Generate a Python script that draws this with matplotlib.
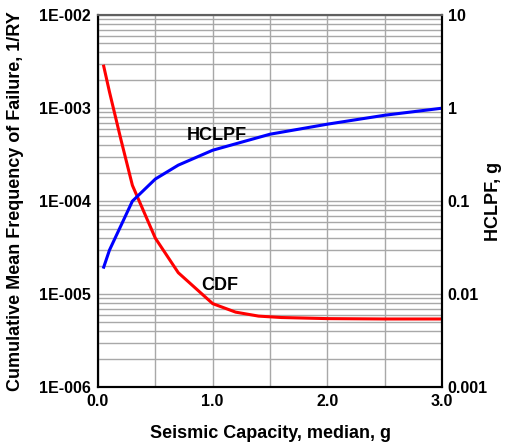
#!/usr/bin/env python3
"""Seismic capacity vs. CDF and HCLPF, two log axes."""

import matplotlib
matplotlib.use("Agg")
import matplotlib.pyplot as plt
from matplotlib.ticker import FixedLocator, LogLocator, NullFormatter

plt.rcParams["font.family"] = ["Liberation Sans", "DejaVu Sans"]
plt.rcParams["font.weight"] = "bold"

# --- data ---
capacity = [0.05, 0.1, 0.2, 0.3, 0.5, 0.7, 1.0, 1.2, 1.4, 1.6, 2.0, 2.5, 3.0]
cdf = [2.83e-3, 1.5e-3, 4.6e-4, 1.48e-4, 4.0e-5, 1.7e-5, 7.9e-6, 6.4e-6,
       5.8e-6, 5.6e-6, 5.45e-6, 5.4e-6, 5.4e-6]
hclpf_x = [0.05, 0.1, 0.3, 0.5, 0.7, 1.0, 1.5, 2.0, 2.5, 3.0]
hclpf = [0.0195, 0.0297, 0.1, 0.173, 0.244, 0.353, 0.525, 0.673, 0.84, 1.0]

x_ticks = [0.0, 1.0, 2.0, 3.0]
x_labels = ["0.0", "1.0", "2.0", "3.0"]
left_ticks = [1e-6, 1e-5, 1e-4, 1e-3, 1e-2]
left_labels = ["1E-006", "1E-005", "1E-004", "1E-003", "1E-002"]
right_ticks = [1e-3, 1e-2, 1e-1, 1, 10]
right_labels = ["0.001", "0.01", "0.1", "1", "10"]

fig = plt.figure(figsize=(5.09, 4.48), dpi=100)
ax = fig.add_axes([0.1925, 0.136, 0.676, 0.830])

ax.set_yscale("log")
ax.set_xlim(0, 3.0)
ax.set_ylim(1e-6, 1e-2)

# grid: vertical every 0.5, horizontal on every log minor step
ax.xaxis.set_minor_locator(FixedLocator([0.5, 1.5, 2.5]))
ax.yaxis.set_minor_locator(LogLocator(base=10, subs=range(2, 10)))
ax.yaxis.set_minor_formatter(NullFormatter())
ax.grid(True, which="both", color="#a8a8a8", lw=1.0)
ax.set_axisbelow(True)

ax.plot(capacity, cdf, color="#ff0000", lw=2.2)

ax.set_xticks(x_ticks)
ax.set_xticklabels(x_labels, fontsize=11.5, fontweight="bold")
ax.set_yticks(left_ticks)
ax.set_yticklabels(left_labels, fontsize=11.5, fontweight="bold")
ax.tick_params(axis="both", which="both", length=0, pad=5)

ax.set_xlabel("Seismic Capacity, median, g", fontsize=13, fontweight="bold")
ax.xaxis.set_label_coords(0.5, -0.102)
ax.set_ylabel("Cumulative Mean Frequency of Failure, 1/RY", fontsize=13,
              fontweight="bold")
ax.yaxis.set_label_coords(-0.215, 0.5)

ax2 = ax.twinx()
ax2.set_yscale("log")
ax2.set_ylim(1e-3, 10)
ax2.plot(hclpf_x, hclpf, color="#0000ff", lw=2.2)
ax2.set_yticks(right_ticks)
ax2.set_yticklabels(right_labels, fontsize=11.5, fontweight="bold")
ax2.yaxis.set_minor_formatter(NullFormatter())
ax2.tick_params(axis="both", which="both", length=0, pad=4)
ax2.set_ylabel("HCLPF, g", fontsize=13, fontweight="bold")
ax2.yaxis.set_label_coords(1.125, 0.5)

for a in (ax, ax2):
    for side in ("left", "bottom", "right"):
        a.spines[side].set_linewidth(1.5)
        a.spines[side].set_color("black")
    a.spines["top"].set_linewidth(1.5)
    a.spines["top"].set_color("#606060")

ax.text(1.04, 5.1e-4, "HCLPF", fontsize=13, fontweight="bold",
        ha="center", va="center")
ax.text(1.06, 1.25e-5, "CDF", fontsize=13, fontweight="bold",
        ha="center", va="center")

fig.savefig("out.png", dpi=100)
